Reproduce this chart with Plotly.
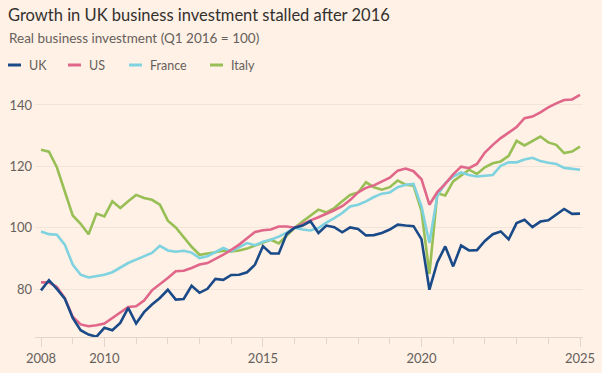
import plotly.graph_objects as go

# ---- data (quarterly, Q1 2008 .. Q1 2025; index Q1 2016 = 100) ----
start_year = 2008
uk = [79.6, 82.9, 80.1, 76.9,
      70.6, 66.6, 65.2, 64.5,
      67.4, 66.6, 69.0, 73.9,
      68.8, 72.5, 75.0, 77.1,
      79.8, 76.6, 76.8, 81.1,
      78.8, 80.1, 83.3, 83.0,
      84.6, 84.7, 85.5, 88.0,
      94.0, 91.6, 91.6, 98.0,
      100.0, 100.7, 102.1, 98.3,
      100.7, 100.2, 98.5, 100.1,
      99.6, 97.5, 97.6, 98.3,
      99.4, 101.0, 100.7, 100.5,
      96.3, 79.8, 88.8, 93.9,
      87.4, 94.2, 92.6, 92.7,
      95.7, 97.9, 98.8, 96.2,
      101.5, 102.6, 100.2, 102.0,
      102.4, 104.2, 106.1, 104.5,
      104.6]
us = [82.2, 82.2, 80.7, 77.1,
      71.0, 68.5, 67.9, 68.2,
      68.8, 70.6, 72.5, 74.2,
      74.4, 76.3, 79.6, 81.5,
      83.6, 85.8, 86.0, 86.9,
      88.0, 88.5, 89.8, 91.2,
      92.8, 94.5, 96.6, 98.6,
      99.2, 99.4, 100.4, 100.4,
      100.0, 101.3, 102.4, 103.4,
      104.5, 105.7, 107.0, 109.0,
      111.5, 113.0, 113.8, 115.0,
      116.3, 118.6, 119.3, 118.4,
      115.8, 107.5, 111.6, 114.3,
      117.4, 119.9, 119.4, 120.8,
      124.5, 127.0, 129.2, 131.0,
      132.8, 135.7, 136.2, 137.6,
      139.2, 140.5, 141.6, 141.8,
      143.3]
france = [98.8, 97.9, 97.7, 94.5,
          88.0, 84.7, 83.8, 84.2,
          84.7, 85.5, 86.9, 88.5,
          89.6, 90.7, 91.8, 94.1,
          92.6, 92.2, 92.5, 91.9,
          90.1, 90.7, 92.0, 93.4,
          92.3, 93.6, 95.0, 94.3,
          95.4, 96.1, 97.1, 98.4,
          100.0, 99.4, 99.1, 99.9,
          101.7, 103.1, 104.8, 106.9,
          107.5, 108.6, 110.0, 111.1,
          111.5, 113.2, 114.0, 114.3,
          107.0, 95.0, 110.4, 114.5,
          116.7, 118.0, 117.2, 116.7,
          117.0, 117.2, 120.2, 121.3,
          121.3, 122.2, 122.8, 121.7,
          121.2, 120.8, 119.5, 119.1,
          118.9]
italy = [125.4, 124.8, 119.7, 111.8,
         104.0, 101.3, 97.9, 104.6,
         103.7, 108.6, 106.4, 108.6,
         110.7, 109.7, 109.1, 107.5,
         102.3, 100.1, 97.0, 93.8,
         91.2, 91.5, 92.0, 92.5,
         92.3, 92.6, 93.2, 94.2,
         95.2, 96.1, 94.9, 97.5,
         100.0, 102.0, 103.8, 105.9,
         105.0, 106.4, 108.6, 110.7,
         111.5, 114.8, 113.2, 112.4,
         113.2, 115.4, 114.0, 113.7,
         105.5, 85.0, 111.2, 110.5,
         115.1, 116.9, 118.9, 117.5,
         119.7, 121.0, 121.6, 123.4,
         128.3, 126.8, 128.3, 129.7,
         127.8, 127.0, 124.3, 124.8,
         126.4]
series_names = ["UK", "US", "France", "Italy"]
x_tick_years = [2008, 2010, 2015, 2020, 2025]
y_tick_values = [80, 100, 120, 140]

# time axis derived from quarter index
t = [start_year + i * 0.25 for i in range(len(uk))]

colors = {"UK": "#1a4a87", "US": "#e0668a", "France": "#7fd2df", "Italy": "#98bf55"}
values = {"UK": uk, "US": us, "France": france, "Italy": italy}

W, H = 602, 373
ML, MR, MT, MB = 35, 19, 85, 36
PW, PH = W - ML - MR, H - MT - MB

def px_x(px):
    return (px - ML) / PW

def px_y(py):
    return (H - MB - py) / PH

FONT = "Lato"
TEXT_GREY = "#66605c"
AXIS_COL = "#e3d6c9"

fig = go.Figure()
# draw in order so UK is on top
for name in ["Italy", "France", "US", "UK"]:
    fig.add_trace(go.Scatter(x=t, y=values[name], mode="lines", name=name,
                             line=dict(color=colors[name], width=2.6),
                             showlegend=False, hoverinfo="skip"))

# manual legend
legend_pos = {"UK": (8, 21, 27), "US": (68, 81, 87), "France": (129, 142, 148), "Italy": (210, 223, 229)}
shapes = []
annotations = []
ly = 65
for name in series_names:
    x0, x1, xt = legend_pos[name]
    shapes.append(dict(type="line", xref="paper", yref="paper",
                       x0=px_x(x0), x1=px_x(x1), y0=px_y(ly), y1=px_y(ly),
                       line=dict(color=colors[name], width=3)))
    annotations.append(dict(text=name, xref="paper", yref="paper",
                            x=px_x(xt), y=px_y(ly), xanchor="left", yanchor="middle",
                            showarrow=False, font=dict(family=FONT, size=12.5, color=TEXT_GREY)))

annotations.append(dict(text="Real business investment (Q1 2016 = 100)", xref="paper", yref="paper",
                        x=px_x(7), y=px_y(38), xanchor="left", yanchor="middle",
                        showarrow=False, font=dict(family=FONT, size=13.5, color=TEXT_GREY)))

fig.update_layout(
    width=W, height=H,
    margin=dict(l=ML, r=MR, t=MT, b=MB),
    paper_bgcolor="#fff1e5", plot_bgcolor="#fff1e5",
    title=dict(text="Growth in UK business investment stalled after 2016",
               x=8 / W, xref="container", xanchor="left",
               y=1 - 15 / H, yref="container", yanchor="middle",
               font=dict(family=FONT, size=16.5, color="#33302e")),
    shapes=shapes, annotations=annotations,
    xaxis=dict(range=[2008 - 6 / 31.7, 2025 + 3 / 31.7], tickvals=x_tick_years,
               ticktext=[str(v) for v in x_tick_years], automargin=False,
               showgrid=False, zeroline=False, showline=True, linecolor=AXIS_COL, linewidth=1,
               ticks="outside", ticklen=9, tickcolor=AXIS_COL,
               minor=dict(dtick=1, tick0=2008, ticks="outside", ticklen=6, tickcolor=AXIS_COL, showgrid=False),
               tickfont=dict(family=FONT, size=13, color=TEXT_GREY)),
    yaxis=dict(range=[64.4, 146.5], tickvals=y_tick_values, automargin=False,
               showgrid=True, gridcolor="#f1e4d8", gridwidth=1, zeroline=False,
               showline=False, ticks="", ticklabelstandoff=2,
               tickfont=dict(family=FONT, size=13, color=TEXT_GREY)),
)

fig.write_html("out.html", config={"displayModeBar": False},
               post_script="document.body.style.margin='0';document.body.style.background='#fff1e5';")
